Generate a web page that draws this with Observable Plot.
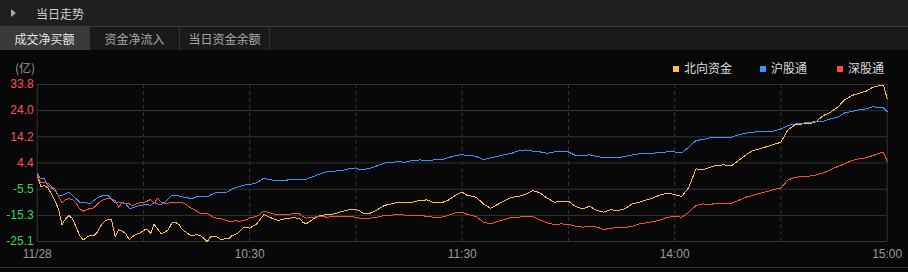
<!DOCTYPE html>
<html>
<head>
<meta charset="utf-8">
<script src="https://cdn.jsdelivr.net/npm/d3@7"></script>
<script src="https://cdn.jsdelivr.net/npm/@observablehq/plot@0.6"></script>
<style>
  html, body { margin: 0; padding: 0; background: #080808; }
  #wrap { position: relative; width: 908px; height: 272px; overflow: hidden; background: #080808;
          font-family: "Noto Sans CJK SC", "Liberation Sans", sans-serif; }
  #topbar { position: absolute; left: 0; top: 0; width: 908px; height: 27px; background: #1f1f1f;
            border-bottom: 1px solid #3a3a3a; box-sizing: border-box; }
  #topbar .tri { position: absolute; left: 11px; top: 9px; width: 0; height: 0;
                 border-top: 4px solid transparent; border-bottom: 4px solid transparent; border-left: 5px solid #a8a8a8; }
  #topbar .title { position: absolute; left: 36px; top: 5px; font-size: 12px; color: #d0d0d0; line-height: 17px; }
  #tabs { position: absolute; left: 0; top: 27px; width: 908px; height: 23px; background: #1a1a1a; }
  .tab { position: absolute; top: 0; height: 23px; width: 89px; border-right: 1px solid #333;
         font-size: 12px; line-height: 23px; color: #a8a8a8; text-align: center; }
  .tab.active { background: #3a3a3a; color: #e4e4e4; }
  #chart { position: absolute; left: 0; top: 50px; }
  #unit { position: absolute; left: 15px; top: 60px; font-size: 12px; color: #9a9a9a; line-height: 16px; }
  #legend { position: absolute; top: 60px; left: 0; font-size: 12px; color: #dcdcdc; line-height: 16px; }
  #legend .item { position: absolute; top: 0; white-space: nowrap; }
  #legend .sw { display: inline-block; width: 6px; height: 6px; margin-right: 5px; vertical-align: 1px; }
  #bottomline { position: absolute; left: 0; top: 267px; width: 908px; height: 1px; background: #2e2e2e; }
</style>
</head>
<body>
<div id="wrap">
  <div id="topbar"><div class="tri"></div><div class="title">当日走势</div></div>
  <div id="tabs">
    <div class="tab active" style="left:0">成交净买额</div>
    <div class="tab" style="left:90px">资金净流入</div>
    <div class="tab" style="left:180px">当日资金余额</div>
  </div>
  <div id="chart"></div>
  <div id="unit">(亿)</div>
  <div id="legend"></div>
  <div id="bottomline"></div>
</div>
<script>
// minute index since 9:30 (0..240, lunch break removed)
const times = [0,1,2,3,4,5,6,7,8,9,10,11,12,13,14,15,16,17,18,19,20,21,22,23,24,25,26,27,28,29,30,
  31,32,33,34,35,36,37,38,39,40,41,42,43,44,45,46,47,48,49,50,51,52,53,54,55,56,57,58,59,60,
  62,64,66,68,70,72,74,75,76,78,80,82,84,86,88,90,91,92,94,96,98,100,102,104,106,108,110,112,114,116,118,120,121,
  122,124,126,128,130,132,134,136,138,140,142,144,146,148,150,152,154,156,158,160,162,164,166,168,170,172,174,176,178,180,
  182,184,186,188,190,192,194,196,198,200,202,204,206,208,210,212,214,216,218,220,222,224,226,228,230,232,234,236,238,239,240];

const seriesNames = ["北向资金", "沪股通", "深股通"];

// 北向资金
const northbound = [-0.2,-4.5,-4.1,-5.0,-7.2,-9.7,-12.85,-18.7,-16.6,-15.35,-16.6,-19.7,-22.85,-24.5,-23.5,-22.85,-23.0,-21.6,-19.1,-17.6,-16.7,
  -17.0,-23.2,-20.7,-21.2,-22.2,-24.35,-23.2,-22.35,-22.0,-21.0,-20.35,-22.2,-18.7,-20.35,-22.2,-21.6,-20.7,-18.2,-17.85,-18.7,
  -20.7,-21.6,-22.6,-22.85,-22.5,-22.85,-23.85,-25.1,-23.2,-23.2,-23.5,-24.5,-24.1,-24.1,-22.85,-22.5,-21.6,-20.1,-19.7,-20.1,
  -18.5,-15.0,-16.2,-17.2,-16.6,-16.2,-16.35,-17.85,-18.5,-16.6,-15.35,-15.0,-14.7,-13.85,-13.2,-13.2,-13.6,-14.5,-14.5,-13.2,
  -11.6,-11.0,-10.35,-10.5,-10.35,-9.7,-9.5,-10.5,-10.6,-9.7,-7.85,-6.5,-7.6,
  -7.85,-8.5,-11.0,-12.6,-11.2,-9.7,-8.5,-8.25,-7.25,-6.0,-6.85,-8.85,-10.35,-10.0,-10.0,-12.0,-12.85,-11.85,-13.5,-14.1,
  -13.2,-13.5,-12.75,-11.0,-10.35,-9.5,-8.75,-7.5,-7.0,-7.5,
  -8.25,-4.75,2.15,1.8,2.8,3.5,3.65,3.3,5.3,7.3,9.0,9.65,10.5,11.3,12.15,16.8,18.65,19.0,19.0,20.0,22.15,23.4,25.3,28.0,
  29.65,30.5,31.25,32.8,33.4,33.3,28.4];

// 沪股通
const shanghai = [0.5,-1.6,-1.6,-4.1,-5.0,-6.0,-7.8,-7.8,-7.2,-6.6,-7.8,-9.1,-10.4,-10.4,-10.6,-11.0,-9.7,-8.7,-8.1,-7.7,-7.8,
  -9.1,-10.7,-10.2,-10.6,-11.0,-12.6,-12.5,-12.0,-11.6,-11.35,-11.2,-11.6,-10.4,-11.0,-11.2,-10.4,-9.1,-7.8,-7.7,-8.0,
  -8.35,-8.6,-8.85,-8.85,-8.35,-8.35,-8.35,-8.35,-7.6,-7.0,-6.7,-6.85,-6.85,-6.35,-5.35,-5.0,-4.5,-4.0,-3.85,-3.75,
  -3.1,-1.35,-2.0,-2.2,-2.2,-1.7,-1.7,-1.7,-1.7,-0.7,0.3,1.15,1.3,1.5,2.15,2.5,1.8,1.9,2.4,3.3,
  4.3,4.65,4.8,4.65,5.3,5.5,5.3,5.5,5.5,6.3,7.15,7.5,7.15,
  7.3,6.8,5.65,6.3,6.8,7.5,8.0,9.0,9.25,8.8,8.5,8.0,8.5,8.5,8.5,7.15,7.15,7.4,6.8,6.4,
  6.5,6.3,6.8,7.4,7.8,8.0,8.0,8.4,8.5,8.5,
  8.15,10.3,12.8,13.15,13.8,13.8,13.8,14.0,14.9,15.5,15.9,16.15,16.3,16.3,17.15,18.4,19.0,19.3,19.5,20.0,20.0,20.9,21.5,23.15,
  23.65,24.3,24.65,25.5,25.0,25.0,23.65];

// 深股通
const shenzhen = [-0.1,-2.85,-2.85,-3.2,-4.5,-5.35,-7.85,-10.6,-9.35,-9.1,-9.35,-10.7,-12.85,-13.7,-13.2,-12.6,-12.5,-11.0,-9.95,-9.2,-9.1,
  -9.1,-9.7,-12.2,-10.6,-10.7,-11.0,-11.7,-11.0,-10.5,-10.5,-10.0,-9.35,-10.7,-8.85,-10.35,-11.0,-10.7,-10.5,-10.35,-10.35,
  -10.6,-11.2,-12.2,-12.85,-13.7,-14.5,-14.5,-14.7,-15.35,-16.2,-16.35,-16.6,-17.0,-17.5,-17.6,-17.2,-17.6,-17.2,-17.0,-16.2,
  -15.7,-13.7,-14.5,-15.1,-15.1,-14.7,-14.7,-15.8,-16.3,-16.0,-15.7,-16.0,-15.6,-15.6,-15.7,-16.0,-16.3,-16.5,-16.35,-16.0,
  -15.35,-15.2,-15.0,-15.2,-15.35,-15.2,-15.7,-16.0,-16.0,-15.35,-14.35,-14.1,-14.7,
  -15.1,-15.7,-17.85,-18.5,-17.6,-16.85,-16.0,-16.0,-15.6,-15.7,-17.0,-18.1,-18.7,-18.5,-18.7,-19.35,-19.7,-19.45,-19.7,-20.6,
  -20.1,-19.85,-19.85,-19.35,-18.5,-18.1,-17.6,-17.0,-16.0,-15.7,
  -16.0,-14.1,-11.6,-11.0,-11.2,-10.7,-10.7,-10.7,-9.7,-8.5,-7.85,-7.0,-6.35,-5.6,-5.0,-2.0,-1.0,-0.75,-0.6,-0.1,0.65,1.8,3.05,4.05,
  5.3,5.9,6.3,7.15,8.15,8.15,5.0];

const yTicks = [33.8, 24.0, 14.2, 4.4, -5.5, -15.3, -25.1];
const xTickPos = [0, 60, 120, 180, 240];
const xTickLabels = ["11/28", "10:30", "11:30", "14:00", "15:00"];
const dashPos = [30, 60, 90, 120, 150, 180, 210];

const colors = ["#ffbf3a", "#3a93ff", "#ff4a36"];
const values = [northbound, shanghai, shenzhen];

const chart = Plot.plot({
  width: 908,
  height: 218,
  marginLeft: 36.7,
  marginRight: 21.3,
  marginTop: 34,
  marginBottom: 27,
  style: { background: "transparent", fontFamily: "'Liberation Sans', Arial, sans-serif", fontSize: "12px" },
  x: { domain: [0, 240], axis: null },
  y: { domain: [-25.1, 33.8], axis: null },
  marks: [
    Plot.ruleX(dashPos, { stroke: "#353535", strokeDasharray: "4,3" }),
    Plot.ruleY(yTicks, { stroke: "#333" }),
    Plot.ruleX([0, 240], { stroke: "#333" }),
    ...values.map((v, i) => Plot.line(times, { x: times, y: v, stroke: colors[i], strokeWidth: 1, shapeRendering: "crispEdges" })),
    Plot.text(yTicks.filter(d => d > 0), { y: d => d, text: d => d.toFixed(1), frameAnchor: "left", textAnchor: "end", dx: -3.5, fill: "#ff5252" }),
    Plot.text(yTicks.filter(d => d < 0), { y: d => d, text: d => d.toFixed(1), frameAnchor: "left", textAnchor: "end", dx: -3.5, fill: "#3ed65a" }),
    Plot.text(xTickPos, { x: d => d, text: (d, i) => xTickLabels[i], frameAnchor: "bottom", dy: 16, fill: "#9a9a9a" })
  ]
});
document.getElementById("chart").appendChild(chart);

const legend = document.getElementById("legend");
const legendLeft = [673, 760, 837];
seriesNames.forEach((name, i) => {
  const it = document.createElement("div");
  it.className = "item";
  it.style.left = legendLeft[i] + "px";
  it.innerHTML = `<span class="sw" style="background:${colors[i]}"></span>${name}`;
  legend.appendChild(it);
});
</script>
</body>
</html>
